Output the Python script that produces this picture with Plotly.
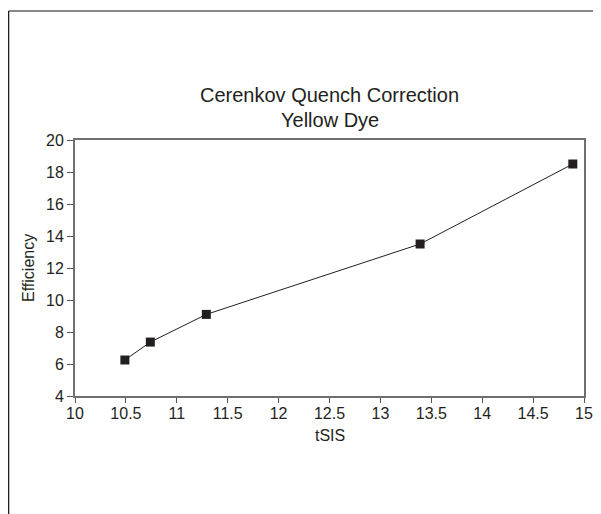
import plotly.graph_objects as go

tsis = [10.49, 10.74, 11.29, 13.39, 14.89]
efficiency = [6.25, 7.37, 9.1, 13.5, 18.5]

title_lines = ["Cerenkov Quench Correction", "Yellow Dye"]
x_title = "tSIS"
y_title = "Efficiency"
x_ticks = [10, 10.5, 11, 11.5, 12, 12.5, 13, 13.5, 14, 14.5, 15]
y_ticks = [4, 6, 8, 10, 12, 14, 16, 18, 20]

FONT = "Liberation Sans, Arial, sans-serif"
INK = "#231f20"

fig = go.Figure()
fig.add_trace(go.Scatter(
    x=tsis, y=efficiency, mode="lines+markers",
    line=dict(color=INK, width=1),
    marker=dict(symbol="square", size=9, color=INK),
    showlegend=False,
))

axis_common = dict(
    showline=True, linecolor="#707070", linewidth=2, mirror=True,
    ticks="outside", tickwidth=1, tickcolor="#555555",
    showgrid=False, zeroline=False,
    tickfont=dict(family=FONT, size=16, color=INK),
)

fig.update_layout(
    width=601, height=514,
    margin=dict(l=67, r=25, t=132, b=126),
    paper_bgcolor="white", plot_bgcolor="white",
    font=dict(family=FONT, color=INK),
    xaxis=dict(range=[10, 15], tickvals=x_ticks,
               ticktext=[f"{v:g}" for v in x_ticks], ticklen=5,
               ticklabelstandoff=-3,
               **axis_common),
    yaxis=dict(range=[4, 20], tickvals=y_ticks, ticklen=6,
               **axis_common),
)

# title lines
for text, shift in zip(title_lines, [45.5, 20.5]):
    fig.add_annotation(
        text=text, xref="paper", yref="paper",
        x=0.5, y=1.0, yanchor="middle", yshift=shift, showarrow=False,
        font=dict(family=FONT, size=20, color=INK),
    )

# axis titles
fig.add_annotation(text=x_title, xref="paper", yref="paper", x=0.5, y=0,
                   yanchor="middle", yshift=-39, showarrow=False,
                   font=dict(family=FONT, size=16, color=INK))
fig.add_annotation(text=y_title, xref="paper", yref="paper", x=0, y=0.5,
                   xanchor="center", yanchor="middle", xshift=-47,
                   textangle=-90, showarrow=False,
                   font=dict(family=FONT, size=16, color=INK))

# frame lines (top and left) of the original figure page
fig.add_shape(type="line", xref="paper", yref="paper",
              x0=-0.1303, x1=1.04, y0=1.504, y1=1.504,
              line=dict(color="#111", width=1.2))
fig.add_shape(type="line", xref="paper", yref="paper",
              x0=-0.1303, x1=-0.1303, y0=1.504, y1=-0.47,
              line=dict(color="#111", width=1.2))

fig.write_html("out.html")
